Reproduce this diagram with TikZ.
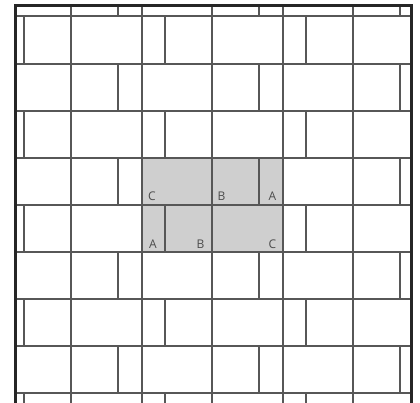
\documentclass[tikz,border=0pt]{standalone}
\usepackage{fontspec}
\setmainfont{Open Sans}
\begin{document}
\begin{tikzpicture}[x=1pt,y=-1pt,
  joint/.style={draw=black!66, line width=2pt},
  frameline/.style={draw=black!85, line width=3pt},
  unitfill/.style={fill=black!19},
  lbl/.style={font=\fontsize{12}{12}\selectfont, text=black!70, inner sep=0pt, anchor=base}]
\useasboundingbox[fill=white] (0,0) rectangle (420,403);
% shaded repeat unit
\fill[unitfill] (142,158) rectangle (283,252);
% horizontal joints
\foreach \yy in {16,64,111,158,205,252,299,346,393} {
  \draw[joint] (15,\yy) -- (412,\yy);
}
% vertical joints: rows C-B-A (even) and A-B-C (odd)
\foreach \r/\ytop/\ybot in {0/5/16,1/16/64,2/64/111,3/111/158,4/158/205,5/205/252,6/252/299,7/299/346,8/346/393,9/393/403} {
  \ifodd\r
    \foreach \xx in {24,71,142,165,212,283,306,353} {
      \draw[joint] (\xx,\ytop) -- (\xx,\ybot);
    }
  \else
    \foreach \xx in {71,118,142,212,259,283,353,400} {
      \draw[joint] (\xx,\ytop) -- (\xx,\ybot);
    }
  \fi
}
% frame
\draw[frameline] (15.5,403) -- (15.5,5.5) -- (411.5,5.5) -- (411.5,403);
% labels
\node[lbl] (c1) at (152,201) {C};
\node[lbl] (b1) at (221.5,201) {B};
\node[lbl] (a1) at (272.5,201) {A};
\node[lbl] (a2) at (153,248) {A};
\node[lbl] (b2) at (200.5,248) {B};
\node[lbl] (c2) at (272.5,248) {C};
\end{tikzpicture}
\end{document}
